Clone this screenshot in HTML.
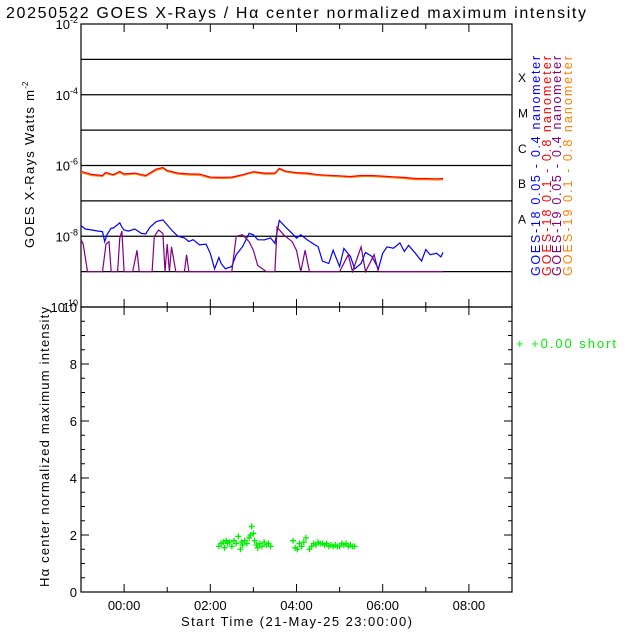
<!DOCTYPE html>
<html><head><meta charset="utf-8"><style>
body{margin:0;background:#fff}
svg{display:block;font-family:"Liberation Sans",sans-serif}
</style></head><body>
<svg id="c" width="640" height="640" xmlns="http://www.w3.org/2000/svg">
<text x="6" y="18" font-size="16" fill="#000" textLength="580" lengthAdjust="spacing">20250522 GOES X-Rays / Hα center normalized maximum intensity</text>
<g id="topg"></g>
<g id="botg"></g>
<text transform="translate(34,248) rotate(-90)" font-size="13"><tspan textLength="158" lengthAdjust="spacing">GOES X-Rays Watts m</tspan><tspan font-size="8" dy="-6">-2</tspan></text>
<text transform="translate(49,587) rotate(-90)" font-size="13" textLength="280" lengthAdjust="spacing">Hα center normalized maximum intensity</text>
<text x="181" y="626" font-size="13" textLength="231" lengthAdjust="spacing">Start Time (21-May-25 23:00:00)</text>
<g font-size="12.5">
<text transform="translate(540,276) rotate(-90)" fill="#0000ff" textLength="220" lengthAdjust="spacing">GOES-18 0.05 - 0.4 nanometer</text>
<text transform="translate(551,276) rotate(-90)" fill="#ff0000" textLength="220" lengthAdjust="spacing">GOES-18 0.1  - 0.8 nanometer</text>
<text transform="translate(561,276) rotate(-90)" fill="#800080" textLength="220" lengthAdjust="spacing">GOES-19 0.05 - 0.4 nanometer</text>
<text transform="translate(572,276) rotate(-90)" fill="#ff8000" textLength="220" lengthAdjust="spacing">GOES-19 0.1  - 0.8 nanometer</text>
</g>
<text x="516" y="348" font-size="13" fill="#00ee00" textLength="100" lengthAdjust="spacing">+   +0.00 short</text>
</svg>
<script>
// ---- data ----
const orangeHours=[-1,-0.75,-0.5,-0.43,-0.25,-0.1,0,0.25,0.5,0.75,0.9,1,1.25,1.5,1.75,2,2.25,2.5,2.75,3,3.25,3.5,3.6,3.75,4,4.25,4.5,4.75,5,5.25,5.5,5.75,6,6.25,6.5,6.75,7,7.25,7.4];
const orangeFlux=[6.3e-7,5.2e-7,4.9e-7,5.9e-7,5.2e-7,6.3e-7,5.4e-7,5.7e-7,4.9e-7,7.3e-7,8.2e-7,6.8e-7,5.7e-7,5.4e-7,5.3e-7,4.4e-7,4.3e-7,4.4e-7,5.2e-7,6.3e-7,5.7e-7,5.7e-7,7.7e-7,6.5e-7,5.9e-7,5.7e-7,5.2e-7,5.0e-7,4.8e-7,4.6e-7,4.9e-7,4.9e-7,4.7e-7,4.5e-7,4.3e-7,4.0e-7,4.0e-7,3.9e-7,4.0e-7];
const redFlux=[6.8e-7,5.6e-7,5.2e-7,6.4e-7,5.5e-7,6.8e-7,5.8e-7,6.1e-7,5.2e-7,7.9e-7,8.8e-7,7.2e-7,6.1e-7,5.8e-7,5.7e-7,4.7e-7,4.6e-7,4.7e-7,5.5e-7,6.7e-7,6.1e-7,6.1e-7,8.3e-7,6.9e-7,6.3e-7,6.1e-7,5.5e-7,5.3e-7,5.1e-7,4.9e-7,5.2e-7,5.2e-7,5.0e-7,4.8e-7,4.6e-7,4.3e-7,4.3e-7,4.2e-7,4.3e-7];
const blueHours=[-1,-0.9,-0.75,-0.6,-0.5,-0.45,-0.4,-0.3,-0.25,-0.1,-0.05,0,0.1,0.25,0.4,0.5,0.6,0.75,0.9,1,1.1,1.25,1.4,1.5,1.6,1.75,1.9,2,2.1,2.2,2.25,2.35,2.5,2.6,2.75,2.9,3,3.1,3.25,3.4,3.5,3.6,3.75,3.9,4,4.1,4.25,4.4,4.5,4.6,4.75,4.85,5,5.1,5.25,5.35,5.5,5.6,5.75,5.9,6,6.1,6.25,6.4,6.5,6.6,6.75,6.9,7,7.1,7.25,7.35,7.4];
const blueFlux=[2.0e-8,1.6e-8,1.5e-8,1.4e-8,1.35e-8,7e-9,1.1e-8,1.7e-8,1.7e-8,2.4e-8,1.8e-8,1.5e-8,1.4e-8,1.6e-8,1.2e-8,1.16e-8,1.8e-8,2.6e-8,2.9e-8,2.1e-8,1.5e-8,1.0e-8,9e-9,7.1e-9,8e-9,5.7e-9,6e-9,3.3e-9,1.2e-9,2.5e-9,1.7e-9,1.2e-9,1.4e-9,3e-9,5.1e-9,1.2e-8,1.1e-8,8e-9,7.9e-9,9e-9,6.3e-9,2.8e-8,1.8e-8,1.2e-8,8.8e-9,1.1e-8,7.9e-9,6e-9,5.1e-9,2e-9,1.7e-9,4e-9,1.4e-9,4.5e-9,2.7e-9,1.2e-9,1.7e-9,3.5e-9,2.7e-9,1.2e-9,3.3e-9,5e-9,4.6e-9,6.5e-9,3.7e-9,5.5e-9,3.4e-9,2e-9,4.2e-9,3e-9,3.3e-9,2.6e-9,3.5e-9];
const purpleHours=[-1,-0.95,-0.85,-0.5,-0.42,-0.35,-0.3,-0.15,-0.1,-0.05,0,0.2,0.3,0.35,0.65,0.7,0.8,0.9,0.95,1,1.05,1.1,1.2,1.4,1.45,1.5,2.5,2.6,2.75,2.9,3,3.1,3.3,3.5,3.55,3.7,3.9,4,4.1,4.2,4.3,5,5.2,5.3,5.5,5.6,5.8,5.9,7.4];
const purpleFlux=[8e-9,6e-9,1e-9,1e-9,6e-9,7e-9,1e-9,1e-9,9e-9,1.4e-8,1e-9,1e-9,4e-9,1e-9,1e-9,1e-8,1.5e-8,1.2e-8,1e-9,6e-9,1e-9,5e-9,1e-9,1e-9,3e-9,1e-9,1e-9,1e-8,1.1e-8,7e-9,4e-9,1.5e-9,1e-9,1e-9,1.8e-8,1.1e-8,7e-9,4e-9,1e-9,4e-9,1e-9,1e-9,3e-9,1e-9,5e-9,1e-9,3e-9,1e-9,1e-9];
const greenHours=[2.2,2.25,2.3,2.33,2.37,2.4,2.45,2.5,2.55,2.6,2.65,2.7,2.72,2.75,2.8,2.85,2.9,2.93,2.96,3.0,3.03,3.07,3.1,3.15,3.2,3.25,3.3,3.35,3.4,3.92,3.97,4.02,4.07,4.12,4.17,4.22,4.3,4.35,4.4,4.45,4.5,4.55,4.6,4.65,4.7,4.75,4.8,4.85,4.9,4.95,5.0,5.05,5.1,5.15,5.2,5.25,5.3,5.35];
const greenVals=[1.6,1.7,1.75,1.55,1.8,1.7,1.75,1.6,1.8,1.7,1.95,1.5,1.75,1.65,1.8,1.7,1.9,2.0,2.3,2.05,1.8,1.65,1.55,1.7,1.6,1.75,1.65,1.7,1.6,1.8,1.55,1.5,1.7,1.6,1.75,1.9,1.5,1.6,1.7,1.65,1.75,1.7,1.7,1.65,1.7,1.6,1.65,1.6,1.65,1.6,1.6,1.7,1.65,1.7,1.6,1.65,1.6,1.6];
const timeTicks=["00:00","02:00","04:00","06:00","08:00"];
const decadeLabels=[-2,-4,-6,-8,-10];
const gridDecades=[-3,-4,-5,-6,-7,-8,-9];
const classLetters=["X","M","C","B","A"];
const halphaTicks=[0,2,4,6,8,10];
// ---- axes ----
const L=81,R=512,T=24,M=307,B=592;
const xs=h=>L+(h+1)*(R-L)/10;
const ysTop=v=>T+(-2-Math.log10(v))*(M-T)/8;
const ysBot=v=>B-v*(B-M)/10;
const NS="http://www.w3.org/2000/svg";
function mk(tag,attrs,parent){const e=document.createElementNS(NS,tag);for(const k in attrs)e.setAttribute(k,attrs[k]);parent.appendChild(e);return e;}
const topG=document.getElementById('topg'),botG=document.getElementById('botg');
let f=mk('rect',{x:L,y:T,width:R-L,height:M-T,fill:'none',stroke:'#000','stroke-width':1.2},topG);


f=mk('rect',{x:L,y:M,width:R-L,height:B-M,fill:'none',stroke:'#000','stroke-width':1.2},botG);


gridDecades.forEach(d=>{
  const y=ysTop(Math.pow(10,d));
  const ln=mk('line',{x1:L,x2:R,y1:y,y2:y,stroke:'#000','stroke-width':1.2},topG);
  
  
});
decadeLabels.forEach((d)=>{
  const y=ysTop(Math.pow(10,d));
  const t=mk('text',{x:L-3,y:y+5,'text-anchor':'end','font-size':13},topG);
  
  
  t.innerHTML='10<tspan font-size="9" dy="-6">'+d+'</tspan>';
});
classLetters.forEach((c,i)=>{
  const y=ysTop(Math.pow(10,-3.5-i));
  const t=mk('text',{x:518,y:y+5,'font-size':12},topG);t.textContent=c;
  
  
});
for(let h=0;h<=8;h++){
  const x=xs(h),len=(h%2==0)?8:5;
  [[T,T+len],[M,M-len],[M,M+len],[B,B-len]].forEach(p=>{
    const tk=mk('line',{x1:x,x2:x,y1:p[0],y2:p[1],stroke:'#000'},botG);
    
    });
}
timeTicks.forEach((s,i)=>{
  const t=mk('text',{x:xs(i*2),y:610,'text-anchor':'middle','font-size':13},botG);t.textContent=s;
  
  
});
for(let v=0;v<=10;v+=0.5){
  const y=ysBot(v),len=(v%2==0)?8:4;
  [[L,L+len],[R,R-len]].forEach(p=>{const tk=mk('line',{x1:p[0],x2:p[1],y1:y,y2:y,stroke:'#000'},botG);
    
    });
}
halphaTicks.forEach(v=>{
  const t=mk('text',{x:L-4,y:ysBot(v)+5,'text-anchor':'end','font-size':13},botG);t.textContent=v;
  
  
});
function line(hs,vs,color,name){
  const d=hs.map((h,i)=>(i?'L':'M')+xs(h).toFixed(1)+','+ysTop(vs[i]).toFixed(1)).join('');
  const p=mk('path',{d:d,fill:'none',stroke:color,'stroke-width':1.2},topG);
  
  
}
line(orangeHours,orangeFlux,'#ff8000','goes19-long-line');
line(orangeHours,redFlux,'#ff0000','goes18-long-line');
line(blueHours,blueFlux,'#0000ff','goes18-short-line');
line(purpleHours,purpleFlux,'#800080','goes19-short-line');
greenHours.forEach((h,i)=>{
  const x=xs(h),y=ysBot(greenVals[i]);
  const p=mk('path',{d:`M${x-3},${y}H${x+3}M${x},${y-3}V${y+3}`,stroke:'#00ee00','stroke-width':1.3},botG);
  
  
});
</script>
</body></html>
